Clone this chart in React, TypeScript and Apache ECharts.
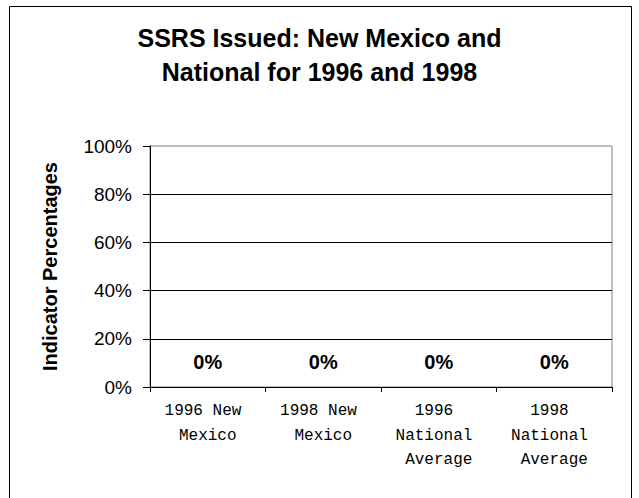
import React, { useEffect, useRef } from "react";
import * as echarts from "echarts";

const titleLines = ["SSRS Issued: New Mexico and", "National for 1996 and 1998"];
const categories = ["1996 New Mexico", "1998 New Mexico", "1996 National Average", "1998 National Average"];
const values = [0, 0, 0, 0];
const yAxisName = "Indicator Percentages";

export default function App() {
  const ref = useRef<HTMLDivElement>(null);
  useEffect(() => {
    if (!ref.current) return;
    const chart = echarts.init(ref.current, null, { renderer: "svg" });
    chart.setOption({
      animation: false,
      backgroundColor: "#ffffff",
      title: {
        text: titleLines.join("\n"),
        left: "center",
        top: 16,
        textStyle: {
          fontFamily: "Liberation Sans, Arial, sans-serif",
          fontSize: 25,
          fontWeight: "bold",
          color: "#000",
          lineHeight: 34,
        },
      },
      graphic: [
        {
          type: "rect",
          shape: { x: 9.5, y: 6.5, width: 622, height: 600 },
          style: { fill: "none", stroke: "#000", lineWidth: 1 },
          silent: true,
        },
      ],
      grid: {
        left: 150,
        top: 146,
        right: 27,
        bottom: 111,
        show: true,
        borderColor: "#808080",
        borderWidth: 1,
        backgroundColor: "transparent",
      },
      xAxis: {
        type: "category",
        data: categories,
        boundaryGap: true,
        axisLine: { show: true, lineStyle: { color: "#000", width: 1 } },
        axisTick: { show: true, length: 5, lineStyle: { color: "#000" } },
        axisLabel: {
          interval: 0,
          margin: 12,
          width: 110,
          overflow: "break",
          fontFamily: "Liberation Mono, Courier New, monospace",
          fontSize: 16,
          lineHeight: 24.5,
          color: "#000",
        },
        splitLine: { show: false },
      },
      yAxis: {
        type: "value",
        min: 0,
        max: 100,
        interval: 20,
        name: yAxisName,
        nameLocation: "middle",
        nameGap: 90,
        nameTextStyle: {
          fontFamily: "Liberation Sans, Arial, sans-serif",
          fontSize: 20,
          fontWeight: "bold",
          color: "#000",
        },
        axisLine: { show: true, lineStyle: { color: "#000", width: 1 } },
        axisTick: { show: true, length: 7, lineStyle: { color: "#000" } },
        axisLabel: {
          formatter: "{value}%",
          margin: 18,
          fontFamily: "Liberation Sans, Arial, sans-serif",
          fontSize: 19,
          color: "#000",
        },
        splitLine: {
          show: true,
          showMinLine: false,
          showMaxLine: false,
          lineStyle: { color: "#000", width: 1 },
        },
      },
      series: [
        {
          type: "bar",
          data: values,
          barWidth: "60%",
          itemStyle: { color: "#9999ff" },
          label: {
            show: true,
            position: "top",
            distance: 15,
            formatter: "{c}%",
            fontFamily: "Liberation Sans, Arial, sans-serif",
            fontSize: 20,
            fontWeight: "bold",
            color: "#000",
          },
        },
      ],
    });
    return () => chart.dispose();
  }, []);
  return (
    <div
      ref={ref}
      style={{ position: "absolute", left: 0, top: 0, width: 639, height: 498 }}
    />
  );
}
